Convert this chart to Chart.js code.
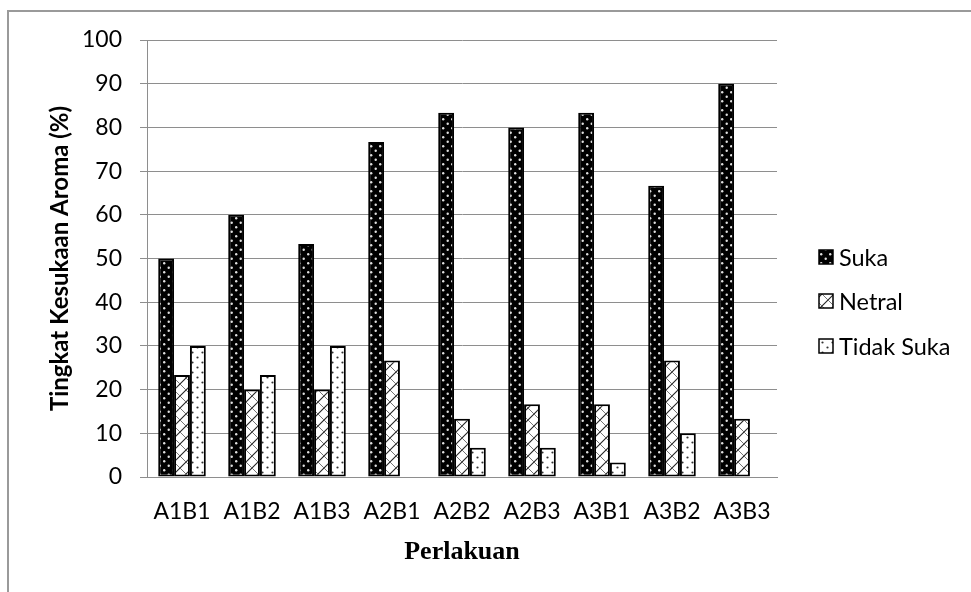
<!DOCTYPE html>
<html>
<head>
<meta charset="utf-8">
<script src="https://cdn.jsdelivr.net/npm/chart.js@4.4.1/dist/chart.umd.min.js"></script>
<style>
  html, body { margin: 0; padding: 0; background: #fff; }
  #wrap { width: 971px; height: 592px; position: relative; }
</style>
</head>
<body>
<div id="wrap"><canvas id="c" width="971" height="592"></canvas></div>
<script>
// Categories and series (percent of panelists)
const categories = ['A1B1', 'A1B2', 'A1B3', 'A2B1', 'A2B2', 'A2B3', 'A3B1', 'A3B2', 'A3B3'];
const suka      = [50, 60, 53.33, 76.67, 83.33, 80, 83.33, 66.67, 90];
const netral    = [23.33, 20, 20, 26.67, 13.33, 16.67, 16.67, 26.67, 13.33];
const tidakSuka = [30, 23.33, 30, 0, 6.67, 6.67, 3.33, 10, 0];
const seriesNames = ['Suka', 'Netral', 'Tidak Suka'];
const yTicks = [0, 10, 20, 30, 40, 50, 60, 70, 80, 90, 100];

const FONT = 'Lato, "Open Sans", sans-serif';
const GRID = '#8e8e8e';

function makeTile(w, h, draw) {
  const t = document.createElement('canvas');
  t.width = w; t.height = h;
  draw(t.getContext('2d'));
  return document.getElementById('c').getContext('2d').createPattern(t, 'repeat');
}

// black fill with white dots
const patSuka = makeTile(9, 9, g => {
  g.fillStyle = '#000'; g.fillRect(0, 0, 9, 9);
  g.fillStyle = '#e0e0e0';
  g.beginPath(); g.arc(2.2, 2.2, 1.2, 0, Math.PI * 2); g.fill();
  g.beginPath(); g.arc(6.7, 6.7, 1.2, 0, Math.PI * 2); g.fill();
});
// white fill with diagonal cross hatch
const patNetral = makeTile(12, 12, g => {
  g.fillStyle = '#fff'; g.fillRect(0, 0, 12, 12);
  g.strokeStyle = '#222'; g.lineWidth = 1.1;
  g.beginPath(); g.moveTo(-1, 13); g.lineTo(13, -1); g.stroke();
  g.strokeStyle = '#666'; g.lineWidth = 0.9;
  g.beginPath(); g.moveTo(-1, -1); g.lineTo(13, 13); g.stroke();
});
// white fill with black dots
const patTidak = makeTile(10, 10, g => {
  g.fillStyle = '#fff'; g.fillRect(0, 0, 10, 10);
  g.fillStyle = '#333';
  g.beginPath(); g.arc(2.5, 2.5, 1.1, 0, Math.PI * 2); g.fill();
  g.beginPath(); g.arc(7.5, 7.5, 1.1, 0, Math.PI * 2); g.fill();
});
const fills = [patSuka, patNetral, patTidak];

// outer frame (left and top edges) and right-hand legend
const framePlugin = {
  id: 'frame',
  beforeDraw(chart) {
    const g = chart.ctx;
    g.save();
    g.fillStyle = '#fff';
    g.fillRect(0, 0, chart.width, chart.height);
    g.strokeStyle = '#9a9a9a'; g.lineWidth = 2;
    g.beginPath();
    g.moveTo(8, chart.height); g.lineTo(8, 11); g.lineTo(chart.width, 11);
    g.stroke();
    g.restore();
  },
  afterDraw(chart) {
    const g = chart.ctx;
    g.save();
    const rows = [257, 301, 346];
    chart.data.datasets.forEach((ds, i) => {
      const y = rows[i];
      g.fillStyle = ds.backgroundColor;
      g.fillRect(819, y - 7, 14, 14);
      g.strokeStyle = '#000'; g.lineWidth = 1.5;
      g.strokeRect(819, y - 7, 14, 14);
      g.fillStyle = '#000';
      g.font = '23.5px ' + FONT;
      g.textBaseline = 'middle';
      g.textAlign = 'left';
      g.fillText(ds.label, 839, y + 1);
    });
    g.restore();
  }
};

const datasets = [suka, netral, tidakSuka].map((d, i) => ({
  label: seriesNames[i],
  data: d,
  backgroundColor: fills[i],
  borderColor: '#000',
  borderWidth: 2,
  borderSkipped: false,
  categoryPercentage: 0.68,
  barPercentage: 1.0
}));

new Chart(document.getElementById('c'), {
  type: 'bar',
  data: { labels: categories, datasets },
  options: {
    responsive: false,
    animation: false,
    layout: { padding: { left: 0, right: 194, top: 40, bottom: 0 } },
    plugins: { legend: { display: false }, tooltip: { enabled: false } },
    scales: {
      x: {
        grid: { display: false },
        border: { display: true, color: GRID, width: 1 },
        ticks: { color: '#000', font: { family: FONT, size: 23 }, padding: 13, maxRotation: 0 },
        title: {
          display: true, text: 'Perlakuan', color: '#000',
          font: { family: '"Liberation Serif", "Times New Roman", serif', size: 26, weight: 'bold' },
          padding: { top: 8, bottom: 24 }
        },
        afterFit(s) { s.height = 115; }
      },
      y: {
        min: 0, max: 100,
        afterBuildTicks(s) { s.ticks = yTicks.map(v => ({ value: v })); },
        grid: { color: GRID, lineWidth: 1, tickLength: 7, drawTicks: true },
        border: { display: true, color: GRID, width: 1 },
        ticks: { color: '#000', font: { family: FONT, size: 23 }, padding: 18 },
        title: {
          display: true, text: 'Tingkat Kesukaan Aroma (%)', color: '#000',
          font: { family: FONT, size: 24, weight: 'bold' },
          padding: { top: 46, bottom: 0 }
        },
        afterFit(s) { s.width = 147; }
      }
    }
  },
  plugins: [framePlugin]
});
</script>
</body>
</html>
